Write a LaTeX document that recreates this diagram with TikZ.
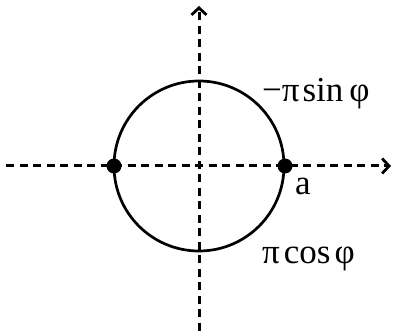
\documentclass[tikz,border=0pt]{standalone}
\usepackage{fontspec}
\setmainfont{Liberation Serif}
\usetikzlibrary{arrows.meta}
\begin{document}
\begin{tikzpicture}[x=1pt,y=1pt,
  axis/.style={line width=3pt,dash pattern=on 8pt off 5.5pt,-{Straight Barb[length=7pt,width=15pt,line width=2.8pt]}},
  curve/.style={line width=2.7pt},
  pt/.style={circle,fill=black,inner sep=0pt,minimum size=15pt},
  lbl/.style={anchor=base west,inner sep=0pt,font=\fontsize{35}{40}\selectfont}]
\useasboundingbox (0,0) rectangle (393,331);
\coordinate (O) at (199,165);
\coordinate (xs) at (6,165);
\coordinate (xe) at (391,165);
\coordinate (ys) at (199,0);
\coordinate (ye) at (199,325);
\draw[axis] (xs) -- (xe);
\draw[axis] (ys) -- (ye);
\draw[curve] (O) circle (85);
\node[pt] (L) at (114,165) {};
\node[pt] (R) at (285,165) {};
\node[lbl] (s) at (262,229) {−π\kern3pt sin\kern6pt φ};
\node[lbl] (a) at (295,136) {a};
\node[lbl] (c) at (262,67) {π\kern4pt cos\kern4pt φ};
\end{tikzpicture}
\end{document}
